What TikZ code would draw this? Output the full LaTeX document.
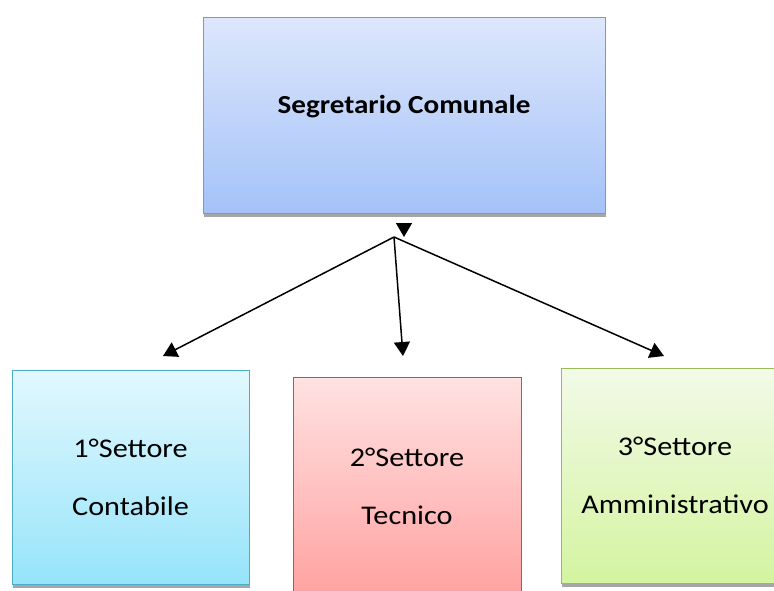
\documentclass[tikz,border=0pt]{standalone}
\usepackage{fontspec}
\setmainfont{Carlito}[FakeStretch=1.12]
\usetikzlibrary{arrows.meta,shadows}

\definecolor{segtop}{RGB}{221,231,252}
\definecolor{segbot}{RGB}{164,194,248}
\definecolor{segline}{RGB}{120,150,210}
\definecolor{contop}{RGB}{226,248,254}
\definecolor{conbot}{RGB}{150,228,250}
\definecolor{conline}{RGB}{75,172,198}
\definecolor{tectop}{RGB}{255,226,226}
\definecolor{tecbot}{RGB}{255,162,160}
\definecolor{tecline}{RGB}{192,80,77}
\definecolor{ammtop}{RGB}{242,250,232}
\definecolor{ammbot}{RGB}{212,244,160}
\definecolor{ammline}{RGB}{155,187,89}

\begin{document}
\begin{tikzpicture}[x=1pt, y=-1pt,
    box/.style = {draw, line width=1pt, align=center,
        drop shadow={shadow xshift=1pt, shadow yshift=-4pt, fill=black!35, opacity=1}},
    sett/.style = {box, minimum width=228pt, font=\fontsize{27}{58}\selectfont},
    arr/.style = {line width=1.5pt, -{Triangle[width=16pt,length=14pt]}}]

    \useasboundingbox (0,0) rectangle (774,590);

    \node[box, top color=segtop, bottom color=segbot, draw=segline,
        minimum width=402pt, minimum height=196pt,
        font=\fontsize{26}{30}\selectfont\bfseries,
        text height=17pt, text depth=21pt] (seg) at (404,115) {Segretario Comunale};

    \node[sett, top color=contop, bottom color=conbot, draw=conline,
        minimum width=237pt, minimum height=214pt] (set1) at (130.5,477) {1°Settore\\Contabile};
    \node[sett, top color=tectop, bottom color=tecbot, draw=tecline,
        minimum height=219pt] (set2) at (407,486.5) {2°Settore\\Tecnico};
    \node[sett, top color=ammtop, bottom color=ammbot, draw=ammline,
        minimum height=215pt] (set3) at (675,475.5) {3°Settore\\Amministrativo};

    \coordinate (hub) at (394,237);
    \coordinate (t1) at (163,356);
    \coordinate (t2) at (403,356);
    \coordinate (t3) at (664,356);

    \draw[arr] ([yshift=-9pt]seg.south) -- (seg.south |- hub);
    \draw[arr] (hub) -- (t1);
    \draw[arr] (hub) -- (t2);
    \draw[arr] (hub) -- (t3);

\end{tikzpicture}
\end{document}
